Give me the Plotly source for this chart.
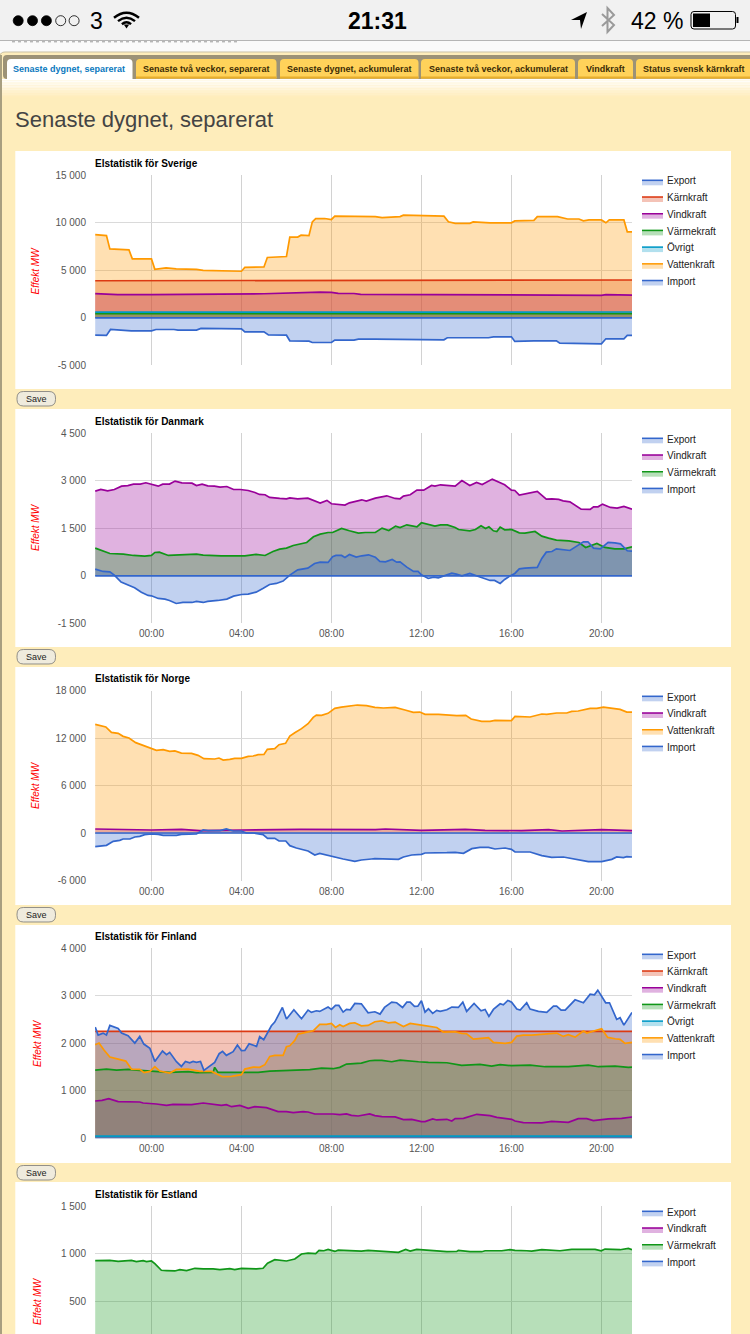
import plotly.graph_objects as go

W, H = 750, 1334
FONT = "Liberation Sans, Arial, sans-serif"
CREAM = "#FEEDBB"

HOUR_TICKS = [0, 4, 8, 12, 16, 20]
HOUR_LABELS = ["00:00", "04:00", "08:00", "12:00", "16:00", "20:00"]
X_RANGE = [-2.51, 21.36]

TAB_NAMES = ["Senaste dygnet, separerat", "Senaste två veckor, separerat", "Senaste dygnet, ackumulerat",
             "Senaste två veckor, ackumulerat", "Vindkraft", "Status svensk kärnkraft"]

COLORS = {"Export": "#3366CC", "Kärnkraft": "#DC3912", "Vindkraft": "#990099", "Värmekraft": "#109618",
          "Övrigt": "#0099C6", "Vattenkraft": "#FF9900", "Import": "#3366CC"}

ZERO = [(-2.5, 0), (21.36, 0)]

# ---------- Sverige ----------
SE_KARN = [(-2.5, 3900), (4, 3930), (8, 3980), (16, 3990), (21.36, 3980)]
SE_VIND = [(-2.5, 2540), (-1.5, 2450), (0, 2440), (2, 2450), (4, 2480), (5, 2530), (7.5, 2700), (8, 2680), (8.3, 2570),
           (9, 2560), (9.3, 2470), (12, 2440), (14.5, 2460), (16, 2460), (18, 2370), (20, 2370), (20.2, 2440), (21, 2440), (21.36, 2380)]
SE_VARME = [(-2.5, 430), (4, 420), (8, 440), (16, 430), (21.36, 440)]
SE_OVRIGT = [(-2.5, 600), (4, 590), (8, 610), (16, 620), (21.36, 610)]
SE_VATTEN = [(-2.5, 8750), (-2.0, 8650), (-1.85, 7250), (-1.0, 7150), (-0.85, 6200), (0, 6200), (0.15, 5100), (0.65, 5250),
             (1.1, 5150), (2, 5100), (2.3, 5000), (3.2, 4950), (4, 4900), (4.15, 5300), (5, 5350), (5.15, 6350), (6, 6450),
             (6.15, 8500), (6.5, 8500), (6.65, 8700), (7, 8650), (7.15, 10100), (7.3, 10450), (7.7, 10450), (8, 10350),
             (8.15, 10700), (9.55, 10700), (9.7, 10650), (9.95, 10650), (10.25, 10550), (11.05, 10650), (11.2, 10800),
             (12, 10750), (12.5, 10750), (13, 10700), (13.2, 10100), (13.5, 9950), (14.15, 9950), (14.3, 10100),
             (15.05, 10000), (16, 10000), (16.15, 10200), (17, 10250), (17.15, 10650), (18.05, 10650), (18.5, 10400),
             (19, 10400), (19.2, 10200), (19.45, 10300), (20, 10300), (20.2, 10000), (20.35, 10300), (21, 10300),
             (21.15, 9050), (21.36, 9050)]
SE_IMPORT = [(-2.5, -1830), (-2.0, -1850), (-1.82, -1230), (-0.9, -1370), (0, -1370), (0.2, -1230), (1.0, -1230), (1.18, -1300),
             (2, -1300), (2.2, -1120), (4, -1160), (4.15, -1480), (5, -1480), (5.2, -1800), (6, -1830), (6.15, -2420), (7, -2460),
             (7.15, -2600), (8, -2600), (8.15, -2350), (9, -2350), (9.2, -2250), (9.95, -2250), (11.1, -2250), (12, -2250),
             (12.5, -2320), (13, -2320), (13.15, -2100), (14.98, -2100), (15.2, -2000), (16, -2000), (16.15, -2490), (17, -2420),
             (18, -2420), (18.15, -2670), (20, -2740), (20.2, -2210), (21, -2210), (21.15, -1860), (21.36, -1860)]

# ---------- Danmark ----------
DK_VIND = [(-2.5, 2674), (-2.25, 2726), (-1.95, 2684), (-1.65, 2726), (-1.33, 2830), (-1.05, 2850), (-0.8, 2895), (-0.5, 2895),
           (-0.25, 2937), (0, 2884), (0.3, 2830), (0.5, 2895), (0.8, 2895), (1.05, 2990), (1.35, 2937), (1.8, 2926), (2, 2850),
           (2.25, 2895), (2.5, 2840), (2.8, 2830), (3.05, 2800), (3.35, 2820), (3.65, 2726), (3.95, 2726), (4.3, 2695), (4.6, 2630),
           (4.8, 2570), (5.05, 2560), (5.25, 2474), (5.7, 2442), (6, 2432), (6.15, 2463), (6.5, 2432), (6.95, 2453), (7.25, 2358),
           (7.5, 2295), (7.8, 2380), (8, 2274), (8.6, 2232), (8.8, 2305), (9.35, 2400), (9.55, 2358), (9.95, 2453), (10.46, 2526),
           (10.83, 2442), (11.05, 2432), (11.2, 2516), (11.5, 2558), (11.8, 2705), (12.1, 2705), (12.45, 2853), (12.6, 2832),
           (12.85, 2874), (13.15, 2853), (13.5, 2832), (13.8, 3010), (14.15, 2853), (14.45, 2947), (14.7, 2884), (15.15, 3053),
           (15.5, 2926), (15.7, 2874), (16, 2705), (16.15, 2695), (16.35, 2547), (17.15, 2663), (17.55, 2421), (17.8, 2432),
           (18.1, 2411), (18.3, 2368), (18.6, 2337), (19.1, 2105), (19.5, 2095), (19.65, 2179), (19.85, 2179), (20.05, 2263),
           (20.4, 2158), (20.7, 2137), (21, 2190), (21.36, 2105)]
DK_VARME = [(-2.5, 874), (-1.85, 705), (-1.25, 684), (-0.8, 642), (-0.3, 621), (0, 642), (0.15, 737), (0.35, 747), (0.75, 642),
            (1.1, 653), (1.55, 674), (2, 684), (2.3, 653), (3.1, 632), (4, 632), (4.15, 632), (4.65, 674), (5.05, 642), (5.4, 768),
            (5.7, 842), (6, 874), (6.3, 958), (6.9, 1053), (7.2, 1232), (7.5, 1316), (7.85, 1368), (8.05, 1368), (8.45, 1495),
            (8.8, 1421), (9.2, 1347), (9.5, 1368), (9.95, 1368), (10.25, 1505), (10.55, 1432), (10.85, 1568), (11.05, 1526),
            (11.35, 1610), (11.55, 1579), (11.8, 1547), (12, 1674), (12.3, 1610), (12.6, 1568), (12.85, 1610), (13.15, 1610),
            (13.5, 1526), (13.65, 1463), (14.15, 1421), (14.4, 1463), (14.65, 1579), (14.85, 1495), (15, 1547), (15.2, 1421),
            (15.35, 1400), (15.5, 1537), (15.7, 1453), (16, 1463), (16.35, 1358), (16.6, 1347), (17.05, 1400), (17.35, 1253),
            (17.65, 1190), (18, 1126), (18.55, 1105), (19, 1053), (19.3, 895), (19.5, 937), (19.8, 1021), (20.15, 895),
            (20.6, 853), (21, 853), (21.36, 916)]
DK_IMPORT = [(-2.5, 210), (-2.15, 137), (-1.85, 126), (-1.65, 21), (-1.35, -200), (-1.05, -295), (-0.75, -379), (-0.45, -516),
             (-0.15, -621), (0, -632), (0.3, -716), (0.6, -737), (0.8, -779), (1.1, -874), (1.4, -842), (1.8, -842), (2, -810),
             (2.3, -842), (2.5, -810), (2.95, -779), (3.35, -737), (3.65, -642), (4, -590), (4.3, -579), (4.65, -516), (4.95, -400),
             (5.25, -274), (5.55, -242), (5.85, -168), (6.15, 21), (6.5, 189), (6.95, 242), (7.25, 390), (7.5, 432), (7.85, 421),
             (8.05, 600), (8.2, 642), (8.45, 642), (8.6, 579), (8.8, 674), (9.1, 590), (9.35, 632), (9.65, 663), (9.95, 590),
             (10.15, 453), (10.4, 442), (10.7, 516), (10.9, 432), (11.05, 442), (11.35, 274), (11.65, 137), (11.85, 137), (12, 32),
             (12.3, -84), (12.55, -42), (12.75, -63), (13.05, 21), (13.35, 84), (13.55, 53), (13.8, 0), (14.15, 74), (14.4, 0),
             (14.7, -63), (15.05, -147), (15.25, -147), (15.5, -242), (15.7, -116), (16, 21), (16.15, 74), (16.35, 221), (16.6, 242),
             (17.15, 263), (17.35, 547), (17.55, 747), (17.8, 768), (18, 853), (18.6, 800), (18.9, 937), (19.2, 1074), (19.4, 1074),
             (19.65, 874), (19.95, 853), (20.3, 1053), (20.6, 1042), (20.85, 1011), (21.15, 790), (21.36, 779)]

# ---------- Norge ----------
NO_VIND = [(-2.5, 505), (0, 380), (1.33, 460), (2.15, 300), (4, 380), (6.6, 460), (9.95, 420), (10.4, 505), (12, 340), (13.95, 460),
           (14.83, 340), (16.45, 300), (17.65, 420), (18.25, 250), (20, 420), (21.36, 300)]
NO_VATTEN = [(-2.5, 13725), (-2.03, 13390), (-1.78, 12715), (-1.48, 12590), (-1.26, 12210), (-1.0, 12000), (-0.7, 11410), (-0.44, 11155),
             (-0.15, 10780), (0.22, 10440), (0.52, 10525), (0.81, 10315), (1.04, 10360), (1.33, 10100), (1.78, 10060), (2.07, 9810),
             (2.33, 9390), (2.81, 9345), (3.0, 9470), (3.19, 9220), (3.48, 9305), (3.7, 9430), (4, 9430), (4.3, 9680), (4.52, 9725),
             (4.74, 9895), (5, 9935), (5.15, 10570), (5.48, 10650), (5.67, 11155), (5.96, 11325), (6.15, 12250), (6.37, 12670),
             (6.67, 13180), (6.96, 13810), (7.19, 14610), (7.33, 14900), (7.56, 14860), (7.85, 15115), (8.15, 15745), (8.44, 15910),
             (8.81, 16080), (9.15, 16165), (9.56, 16080), (9.93, 15870), (10.31, 15790), (10.83, 15870), (11.27, 15535), (11.64, 15240),
             (11.93, 15280), (12.16, 14990), (12.76, 14990), (13.05, 14945), (13.27, 14820), (13.57, 14820), (13.97, 14860), (14.21, 14400),
             (14.68, 14100), (15.05, 14100), (15.27, 14230), (15.64, 14230), (16, 14190), (16.16, 14735), (16.83, 14650), (17.35, 15030),
             (17.57, 14990), (18.01, 15155), (18.46, 15155), (18.68, 15365), (18.97, 15410), (19.5, 15745), (19.79, 15745), (20.09, 15910),
             (20.46, 15790), (20.83, 15620), (21.13, 15280), (21.36, 15280)]
NO_IMPORT = [(-2.5, -1725), (-2.0, -1560), (-1.7, -1050), (-1.41, -925), (-1.26, -760), (-0.96, -760), (-0.74, -505), (-0.52, -420),
             (-0.3, -210), (0, -125), (0.3, -170), (0.52, -295), (1.11, -295), (1.33, -170), (2, -125), (2.3, 380), (2.52, 300),
             (3.04, 300), (3.33, 505), (3.63, 250), (4, 250), (4.22, 0), (4.52, 0), (4.96, -210), (5.16, -675), (5.48, -675),
             (5.67, -1010), (5.97, -1010), (6.15, -1600), (6.44, -1895), (6.96, -2275), (7.26, -2780), (7.48, -2570), (7.85, -2820),
             (8.15, -3115), (8.52, -3285), (9.04, -3580), (9.33, -3410), (9.78, -3285), (9.93, -3240), (10.98, -3325), (11.2, -3030),
             (11.57, -2780), (12, -2695), (12.16, -2525), (12.46, -2485), (13.13, -2485), (13.5, -2440), (13.87, -2570), (14.24, -1980),
             (14.6, -1810), (14.98, -1810), (15.27, -2020), (15.72, -1895), (16, -2060), (16.16, -2400), (16.83, -2400), (17.35, -2860),
             (17.79, -3075), (18.31, -3030), (18.83, -3325), (19.42, -3620), (20.01, -3620), (20.46, -3325), (20.68, -3030), (20.98, -3115),
             (21.13, -2990), (21.36, -3030)]

# ---------- Finland ----------
FI_KARN = [(-2.5, 2250), (4, 2250), (8, 2255), (16, 2250), (21.36, 2250)]
FI_VIND = [(-2.5, 785), (-2.2, 800), (-1.9, 834), (-1.48, 771), (-0.52, 764), (-0.37, 743), (0.22, 722), (0.67, 694), (0.96, 715),
           (1.78, 708), (2.3, 743), (2.74, 722), (3.11, 694), (3.33, 708), (3.56, 666), (3.93, 694), (4.3, 631), (4.59, 666),
           (5.11, 645), (5.63, 561), (6, 561), (6.3, 540), (6.74, 561), (6.96, 554), (7.26, 512), (8.07, 512), (8.37, 498),
           (8.67, 512), (8.89, 484), (9.19, 470), (9.7, 512), (9.93, 477), (10.24, 456), (10.83, 449), (11.2, 393), (11.57, 400),
           (12, 351), (12.16, 351), (12.5, 407), (12.68, 386), (13.13, 400), (13.35, 365), (13.5, 414), (13.87, 421), (14.46, 505),
           (15.05, 477), (15.35, 442), (16.01, 400), (16.16, 365), (16.53, 330), (17.35, 323), (17.79, 358), (18.53, 337), (18.97, 414),
           (19.35, 414), (19.64, 372), (20.01, 393), (20.31, 407), (20.9, 421), (21.36, 449)]
FI_VARME = [(-2.5, 1437), (-2.0, 1458), (-1.55, 1437), (-1.04, 1451), (-0.52, 1430), (0, 1409), (0.81, 1388), (1.63, 1402), (2, 1381),
            (2.74, 1388), (2.81, 1493), (2.96, 1388), (4, 1395), (4.74, 1388), (5.26, 1416), (6, 1430), (6.3, 1444), (7.04, 1444),
            (7.56, 1479), (8.07, 1465), (8.37, 1493), (8.67, 1563), (9.33, 1584), (9.7, 1633), (9.93, 1640), (10.24, 1640), (10.68, 1612),
            (11.05, 1647), (11.87, 1612), (12.31, 1598), (13.13, 1591), (13.79, 1535), (14.6, 1556), (15.12, 1521), (15.5, 1549),
            (16, 1528), (16.83, 1542), (17.5, 1507), (18.53, 1507), (19.42, 1542), (19.87, 1507), (20.31, 1507), (20.61, 1521),
            (21.2, 1493), (21.36, 1500)]
FI_OVRIGT = [(-2.5, 45), (8, 45), (16, 50), (21.36, 45)]
FI_VATTEN = [(-2.5, 1970), (-2.33, 2005), (-2.12, 1865), (-1.85, 1710), (-1.48, 1668), (-1.14, 1626), (-0.89, 1458), (-0.52, 1451),
             (-0.33, 1381), (-0.07, 1409), (0.15, 1507), (0.37, 1416), (0.81, 1374), (1.11, 1451), (1.63, 1458), (2.15, 1409), (2.67, 1409),
             (2.89, 1360), (3.16, 1297), (3.56, 1304), (4, 1339), (4.15, 1458), (4.52, 1500), (4.81, 1493), (5.04, 1549), (5.26, 1724),
             (5.48, 1746), (5.85, 1746), (6, 1928), (6.15, 1949), (6.37, 2061), (6.52, 2194), (6.89, 2229), (7.19, 2264), (7.48, 2397),
             (7.78, 2397), (8, 2418), (8.18, 2334), (8.37, 2390), (8.52, 2355), (8.81, 2418), (9.04, 2432), (9.33, 2369), (9.63, 2376),
             (9.93, 2453), (10.24, 2474), (10.53, 2432), (10.83, 2446), (11.2, 2355), (11.5, 2418), (12, 2383), (12.39, 2348), (12.68, 2334),
             (12.98, 2236), (13.5, 2243), (13.79, 2208), (14.01, 2201), (14.31, 2089), (14.98, 2117), (15.2, 2019), (15.72, 1998), (16.01, 2019),
             (16.24, 2152), (16.53, 2173), (16.9, 2173), (18.01, 2215), (18.31, 2145), (18.53, 2180), (18.83, 2131), (19.2, 2257), (19.35, 2215),
             (20.01, 2306), (20.28, 2124), (20.61, 2096), (20.83, 2082), (21.05, 1998), (21.36, 2019)]
FI_IMPORT = [(-2.5, 2341), (-2.37, 2173), (-2.15, 2215), (-2.0, 2173), (-1.85, 2376), (-1.48, 2313), (-1.33, 2215), (-1.04, 2159),
             (-0.74, 2005), (-0.52, 2145), (-0.34, 1984), (-0.07, 1893), (0.15, 1619), (0.49, 1837), (0.67, 1760), (0.81, 1809), (1.11, 1612),
             (1.33, 1514), (1.51, 1619), (1.7, 1591), (1.85, 1619), (2, 1598), (2.18, 1619), (2.33, 1430), (2.81, 1598), (3.01, 1781),
             (3.16, 1830), (3.33, 1746), (3.63, 1823), (3.82, 1963), (4, 1844), (4.15, 1851), (4.34, 1991), (4.67, 1935), (4.81, 2138),
             (4.99, 2075), (5.33, 2369), (5.48, 2446), (5.82, 2755), (6, 2510), (6.33, 2706), (6.67, 2517), (6.96, 2699), (7.11, 2650),
             (7.33, 2685), (7.48, 2671), (7.85, 2762), (8, 2713), (8.18, 2797), (8.33, 2797), (8.52, 2657), (8.67, 2713), (8.84, 2706),
             (9.04, 2839), (9.33, 2832), (9.63, 2643), (9.93, 2664), (10.16, 2615), (10.36, 2755), (10.68, 2867), (10.9, 2853), (11.16, 2755),
             (11.35, 2867), (11.5, 2867), (11.69, 2776), (11.84, 2783), (12, 2895), (12.16, 2657), (12.31, 2727), (12.5, 2629), (12.68, 2692),
             (12.83, 2671), (13.13, 2706), (13.35, 2762), (13.64, 2755), (13.84, 2867), (14.01, 2671), (14.34, 2839), (14.65, 2685),
             (14.83, 2713), (15, 2566), (15.2, 2713), (15.5, 2832), (15.64, 2811), (15.84, 2902), (16.01, 2867), (16.24, 2720), (16.39, 2699),
             (16.68, 2853), (16.83, 2720), (17.2, 2671), (17.57, 2650), (17.87, 2783), (18.01, 2783), (18.21, 2699), (18.39, 2699), (18.83, 2916),
             (19.2, 2853), (19.5, 3035), (19.69, 3021), (19.84, 3119), (20.19, 2853), (20.36, 2853), (20.68, 2503), (20.83, 2538), (21, 2383),
             (21.36, 2650)]

# ---------- Estland ----------
EE_VIND = [(-2.5, 60), (8, 60), (21.36, 60)]
EE_VARME = [(-2.5, 927), (-1.85, 930), (-1.48, 920), (-0.89, 930), (-0.67, 916), (-0.37, 927), (-0.22, 916), (0, 923), (0.15, 895),
            (0.44, 825), (0.67, 822), (1.04, 818), (1.26, 832), (1.56, 822), (1.93, 846), (2.3, 839), (2.74, 839), (3.04, 832), (3.48, 843),
            (3.7, 832), (4, 846), (4.67, 839), (4.96, 846), (5.16, 899), (5.48, 937), (6, 923), (6.37, 944), (6.67, 997), (6.96, 1007),
            (7.3, 1000), (7.45, 1035), (7.66, 1031), (7.85, 1045), (8.15, 1024), (8.3, 1038), (8.96, 1035), (9.33, 1028), (9.63, 1035),
            (9.93, 1031), (10.46, 1017), (10.98, 1014), (11.3, 1045), (11.5, 1028), (11.79, 1045), (12, 1042), (12.83, 1031), (13.13, 1021),
            (13.57, 1024), (13.64, 1035), (14.16, 1021), (14.68, 1021), (14.83, 1031), (15.57, 1031), (15.94, 1042), (16.16, 1035), (16.68, 1031),
            (16.9, 1028), (17.35, 1042), (17.79, 1038), (18.16, 1031), (18.68, 1045), (19.72, 1045), (19.99, 1031), (20.16, 1049), (20.83, 1042),
            (21.2, 1056), (21.36, 1042)]

CHARTS = [
    dict(title="Elstatistik för Sverige", top=175.3, card=(151, 389), ylab=270.5, ylabx=35, xlabels=False, legend_top=180.3,
         rng=[-5000, 15000], ticks=[-5000, 0, 5000, 10000, 15000], labels=["-5 000", "0", "5 000", "10 000", "15 000"], height=190,
         series=[("Export", ZERO), ("Kärnkraft", SE_KARN), ("Vindkraft", SE_VIND), ("Värmekraft", SE_VARME),
                 ("Övrigt", SE_OVRIGT), ("Vattenkraft", SE_VATTEN), ("Import", SE_IMPORT)]),
    dict(title="Elstatistik för Danmark", top=433.3, card=(409, 647), ylab=527, ylabx=35, xlabels=True, legend_top=438.3,
         rng=[-1500, 4500], ticks=[-1500, 0, 1500, 3000, 4500], labels=["-1 500", "0", "1 500", "3 000", "4 500"], height=190,
         series=[("Export", ZERO), ("Vindkraft", DK_VIND), ("Värmekraft", DK_VARME), ("Import", DK_IMPORT)]),
    dict(title="Elstatistik för Norge", top=690.5, card=(667, 905), ylab=785, ylabx=35, xlabels=True, legend_top=696.3,
         rng=[-6000, 18000], ticks=[-6000, 0, 6000, 12000, 18000], labels=["-6 000", "0", "6 000", "12 000", "18 000"], height=190,
         series=[("Export", ZERO), ("Vindkraft", NO_VIND), ("Vattenkraft", NO_VATTEN), ("Import", NO_IMPORT)]),
    dict(title="Elstatistik för Finland", top=948.3, card=(925, 1163), ylab=1043, ylabx=37, xlabels=True, legend_top=954.3,
         rng=[0, 4000], ticks=[0, 1000, 2000, 3000, 4000], labels=["0", "1 000", "2 000", "3 000", "4 000"], height=190,
         series=[("Export", ZERO), ("Kärnkraft", FI_KARN), ("Vindkraft", FI_VIND), ("Värmekraft", FI_VARME),
                 ("Övrigt", FI_OVRIGT), ("Vattenkraft", FI_VATTEN), ("Import", FI_IMPORT)]),
    dict(title="Elstatistik för Estland", top=1206.3, card=(1182, 1340), ylab=1301, ylabx=37, xlabels=False, legend_top=1211.3,
         rng=[153, 1500], ticks=[500, 1000, 1500], labels=["500", "1 000", "1 500"], height=127.7,
         series=[("Export", ZERO), ("Vindkraft", EE_VIND), ("Värmekraft", EE_VARME), ("Import", ZERO)]),
]
PLOT_L, PLOT_R = 95, 632


def px(x):
    return x / W


def py(y):
    return 1 - y / H


def rgba(hex_color, a):
    r, g, b = int(hex_color[1:3], 16), int(hex_color[3:5], 16), int(hex_color[5:7], 16)
    return f"rgba({r},{g},{b},{a})"


shapes, notes = [], []


def rect(x0, y0, x1, y1, fill, line=None, lw=0, layer="below"):
    shapes.append(dict(type="rect", xref="paper", yref="paper", x0=px(x0), x1=px(x1), y0=py(y1), y1=py(y0),
                       fillcolor=fill, line=dict(width=lw, color=line or fill), layer=layer))


def path(points, fill=None, line=None, lw=0, layer="below"):
    """points is an SVG-like list of (cmd, x, y[, x2, y2])."""
    out = []
    for p in points:
        if p[0] == "Z":
            out.append("Z")
        else:
            out.append(p[0] + " ".join(f"{px(p[i]):.5f},{py(p[i + 1]):.5f}" for i in range(1, len(p), 2)))
    d = dict(type="path", xref="paper", yref="paper", path=" ".join(out), layer=layer,
             line=dict(width=lw, color=line or "rgba(0,0,0,0)"))
    if fill:
        d["fillcolor"] = fill
    shapes.append(d)


def rrect(x0, y0, x1, y1, r, fill, line=None, lw=0, top_only=False, layer="below"):
    r2 = 0 if top_only else r
    pts = [("M", x0 + r, y0), ("L", x1 - r, y0), ("Q", x1, y0, x1, y0 + r), ("L", x1, y1 - r2)]
    if r2:
        pts.append(("Q", x1, y1, x1 - r2, y1))
    pts.append(("L", x0 + r2, y1))
    if r2:
        pts.append(("Q", x0, y1, x0, y1 - r2))
    pts += [("L", x0, y0 + r), ("Q", x0, y0, x0 + r, y0), ("Z",)]
    path(pts, fill, line, lw, layer)


def text(x, y, s, size=10, color="#222", anchor="left", bold=False, italic=False, angle=0):
    if bold:
        s = f"<b>{s}</b>"
    if italic:
        s = f"<i>{s}</i>"
    notes.append(dict(x=px(x), y=py(y), xref="paper", yref="paper", text=s, showarrow=False, xanchor=anchor, yanchor="middle",
                      font=dict(size=size, color=color, family=FONT), textangle=angle, borderpad=0, borderwidth=0))


# ----- page chrome -----
rect(0, 0, W, 41, "#F1F1F1")
rect(0, 40, W, 41, "#B5B5B5")
rect(0, 41, W, 53, "#FAFAFA")
shapes.append(dict(type="line", xref="paper", yref="paper", x0=px(12), x1=px(240), y0=py(41.8), y1=py(41.8),
                   line=dict(color="#999999", width=1, dash="dot"), layer="below"))
rrect(0, 52, W + 8, H + 10, 5, CREAM, "#C9C0A6", 1)
rrect(3, 55, W + 8, 79, 4, "#9C9277")
for i in range(12):
    t = i / 11
    c = (255, int(255 - t * (255 - 237)), int(255 - t * (255 - 187)))
    rect(2, 79 + i * 1.6, W, 79 + (i + 1) * 1.6, f"rgb{c}")
rect(0, 55, 2, H, "#A89F80")

TAB_EDGES = [(7, 132.5), (136, 276.5), (280, 418.5), (421, 575), (578, 633), (636, 760)]
TAB_CENTERS = [69, 206, 349, 498, 605, 694]
for i, (name, (a, b), c) in enumerate(zip(TAB_NAMES, TAB_EDGES, TAB_CENTERS)):
    if i == 0:
        rrect(a, 59, b, 79, 4, "#FFFFFF", top_only=True)
        text(c, 68.5, name, size=9, color="#0A78BE", anchor="center", bold=True)
    else:
        rrect(a, 59, b, 78.5, 4, "#FFD25A", top_only=True)
        rect(a, 76.5, b, 78.5, "#E8AE2C")
        text(c, 68.5, name, size=9, color="#3C2C05", anchor="center", bold=True)

text(15, 119.5, "Senaste dygnet, separerat", size=22, color="#444444")

# ----- status bar -----
for i, cx in enumerate([18.2, 32.5, 46.4, 60.7, 74.1]):
    shapes.append(dict(type="circle", xref="paper", yref="paper", x0=px(cx - 5), x1=px(cx + 5), y0=py(25.7), y1=py(15.7),
                       fillcolor="#000000" if i < 3 else "rgba(0,0,0,0)", line=dict(color="#000000", width=0.8), layer="below"))
text(96, 21, "3", size=23, color="#000", anchor="center")
for w_, h_, lw_ in [(12.5, 11, 2.4), (8.5, 6.5, 2.4), (4.6, 2.4, 2.4)]:
    path([("M", 126.5 - w_, 26 - h_ + 0.5 * h_ * 0.5), ("Q", 126.5, 26 - h_ - 0.9 * h_ * 0.55 - 2, 126.5 + w_, 26 - h_ + 0.5 * h_ * 0.5)],
         None, "#000000", lw_)
path([("M", 123.8, 24.5), ("L", 126.5, 28.5), ("L", 129.2, 24.5), ("Z",)], "#000000")
text(377, 21, "21:31", size=23, color="#000", anchor="center", bold=True)
path([("M", 571, 20), ("L", 587, 12), ("L", 581, 29), ("L", 580, 20), ("Z",)], "#000000")
path([("M", 602, 14), ("L", 614, 25), ("L", 607.5, 32), ("L", 607.5, 8), ("L", 614, 15), ("L", 602, 26)], None, "#9A9A9A", 2)
text(656.5, 21, "42 %", size=23, color="#000", anchor="center")
rrect(691, 11.5, 735.5, 29, 3, "rgba(0,0,0,0)", "#000000", 1)
rect(693, 13.5, 710, 27, "#000000")
rect(736.5, 17, 738.5, 23, "#000000")

# ----- figure -----
fig = go.Figure()
layout = {}
line_traces = []
for n, ch in enumerate(CHARTS, 1):
    xa, ya = ("xaxis", "yaxis") if n == 1 else (f"xaxis{n}", f"yaxis{n}")
    xr, yr = ("x", "y") if n == 1 else (f"x{n}", f"y{n}")
    top = ch["top"]
    bottom = top + ch["height"]
    layout[xa] = dict(domain=[px(PLOT_L), px(PLOT_R)], range=X_RANGE, anchor=yr, tickmode="array", tickvals=HOUR_TICKS,
                      ticktext=HOUR_LABELS, showticklabels=ch["xlabels"], ticks="", showgrid=True, gridcolor="#D2D2D2", gridwidth=1,
                      zeroline=False, showline=False, automargin=False,
                      tickfont=dict(size=10, color="#555555", family=FONT), ticklabelstandoff=3)
    layout[ya] = dict(domain=[max(py(bottom), 0), py(top)], range=ch["rng"], anchor=xr, tickmode="array", tickvals=ch["ticks"],
                      ticktext=ch["labels"], ticks="", showgrid=True, gridcolor="#DADADA", gridwidth=1, zeroline=False, showline=False,
                      automargin=False, tickfont=dict(size=10, color="#555555", family=FONT), ticklabelstandoff=8)
    c0, c1 = ch["card"]
    rect(15.3, c0, 731, c1, "#FFFFFF")
    text(95, top - 11.6, ch["title"], size=10, color="#000000", bold=True)
    text(ch["ylabx"], ch["ylab"], "Effekt MW", size=10, color="#FF0000", anchor="center", italic=True, angle=-90)
    if c1 < H:
        rrect(17, c1 + 2.5, 55.5, c1 + 17, 6.5, "#EFEBDD", "#777777", 0.8)
        text(36, c1 + 9.8, "Save", size=9, color="#222222", anchor="center")

    for i, (name, pts) in enumerate(ch["series"]):
        col = COLORS[name]
        xs, ys = zip(*pts)
        # all the filled areas go underneath, every line stays on top of every area
        fig.add_trace(go.Scatter(x=list(xs), y=list(ys), name=name, mode="none", xaxis=xr, yaxis=yr, showlegend=False,
                                 fill="tozeroy", fillcolor=rgba(col, 0.3), hoverinfo="skip"))
        line_traces.append(go.Scatter(x=list(xs), y=list(ys), name=name, mode="lines", xaxis=xr, yaxis=yr, showlegend=False,
                                      line=dict(color=col, width=1.7, shape="linear"), hoverinfo="skip"))
        ly = ch["legend_top"] + 16.7 * i
        rect(642, ly - 0.7, 663, ly + 5, rgba(col, 0.3))
        rect(642, ly - 0.7, 663, ly + 0.8, col)
        text(667, ly + 0.7, name, size=10, color="#222222")

fig.add_traces(line_traces)
fig.update_layout(width=W, height=H, margin=dict(l=0, r=0, t=0, b=0, pad=0, autoexpand=False), paper_bgcolor=CREAM,
                  plot_bgcolor="rgba(0,0,0,0)", showlegend=False, shapes=shapes, annotations=notes, font=dict(family=FONT), **layout)
fig.write_html("out.html", config=dict(displayModeBar=False),
               post_script="document.body.style.margin='0';document.body.style.overflow='hidden';")
